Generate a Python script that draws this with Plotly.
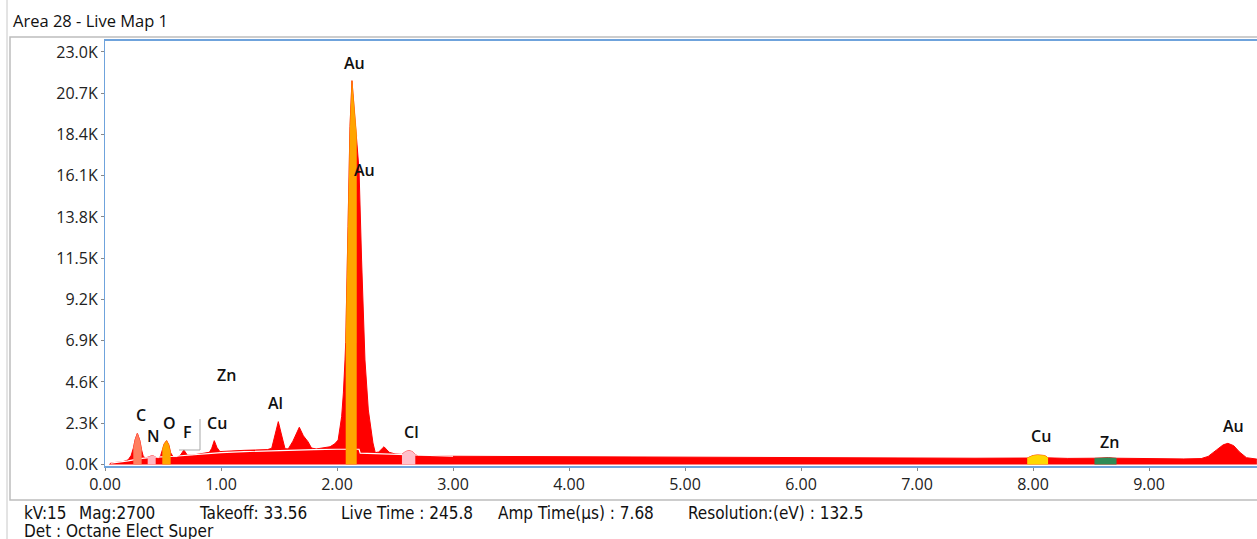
import plotly.graph_objects as go

# ---------------- data ----------------
energy = [0.04, 0.05, 0.10, 0.15, 0.20, 0.225, 0.244, 0.26, 0.279, 0.30, 0.316, 0.33, 0.35,
          0.368, 0.385, 0.40, 0.42, 0.437, 0.46, 0.48, 0.494, 0.51, 0.531, 0.55, 0.566, 0.59,
          0.62, 0.65, 0.68, 0.71, 0.75, 0.80, 0.85, 0.90, 0.92, 0.942, 0.965, 0.99, 1.05, 1.10,
          1.20, 1.30, 1.40, 1.437, 1.47, 1.494, 1.52, 1.552, 1.58, 1.62, 1.675, 1.71, 1.75,
          1.78, 1.82, 1.88, 1.94, 1.98, 2.01, 2.04, 2.055, 2.069, 2.075, 2.095, 2.112, 2.129,
          2.145, 2.164, 2.17, 2.19, 2.212, 2.241, 2.27, 2.299, 2.31, 2.33, 2.36, 2.405, 2.45,
          2.50, 2.56, 2.59, 2.62, 2.65, 2.675, 2.70, 2.80, 3.00, 3.50, 4.00, 4.50, 5.00, 5.50,
          6.00, 6.50, 7.00, 7.50, 7.95, 8.00, 8.04, 8.10, 8.13, 8.30, 8.53, 8.60, 8.65, 8.72,
          9.00, 9.30, 9.45, 9.51, 9.58, 9.64, 9.68, 9.73, 9.78, 9.84, 9.93]
counts = [0, 90, 120, 150, 260, 500, 900, 1400, 1740, 1350, 800, 450, 360,
          420, 470, 480, 470, 420, 330, 500, 850, 1150, 1330, 1100, 650, 400,
          400, 520, 810, 520, 520, 570, 620, 680, 900, 1330, 950, 720, 740, 770,
          790, 810, 830, 900, 1700, 2390, 1700, 880, 870, 1300, 2075, 1600, 1270,
          920, 865, 920, 990, 1150, 1365, 2665, 3990, 5830, 6800, 13260, 18840, 21400,
          20200, 18840, 18300, 16420, 11400, 5830, 3040, 1760, 1200, 660, 700, 990, 680,
          590, 560, 720, 770, 720, 560, 480, 470, 460, 445, 430, 415, 400, 390,
          380, 370, 360, 350, 360, 500, 530, 500, 370, 340, 350, 380, 380, 350,
          320, 310, 330, 450, 800, 1100, 1180, 1050, 700, 380, 300]

# continuum (background model) line
bg_energy = [0.05, 0.10, 0.20, 0.30, 0.40, 0.60, 0.80, 1.00, 1.20, 1.40, 1.60, 1.80, 2.00, 2.19,
             2.20, 2.50, 2.80, 3.00]
bg_counts = [80, 110, 200, 330, 400, 460, 570, 660, 720, 770, 800, 830, 850, 850,
             630, 560, 500, 460]

# element regions of interest
roi_names = ["C", "N", "O", "Au", "Cl", "Cu", "Zn"]
roi_lo = [0.244, 0.368, 0.494, 2.075, 2.56, 7.95, 8.53]
roi_hi = [0.316, 0.437, 0.566, 2.17, 2.675, 8.13, 8.72]
roi_colors = ["#FF7F5F", "#FFB6C1", "#FFA500", "#FFA500", "#FFC0CB", "#FFD700", "#2E8B57"]

# peak labels
label_text = ["Au", "Au", "C", "N", "O", "F", "Cu", "Zn", "Al", "Cl", "Cu", "Zn", "Au"]
label_keV = [2.155, 2.24, 0.307, 0.417, 0.560, 0.710, 0.963, 1.049, 1.474, 2.644, 8.067, 8.658, 9.727]
label_cnt = [22400, 16420, 2760, 1580, 2330, 1820, 2290, 4980, 3410, 1820, 1580, 1270, 2150]

xtick_vals = [0, 1, 2, 3, 4, 5, 6, 7, 8, 9]
xtick_text = ["0.00", "1.00", "2.00", "3.00", "4.00", "5.00", "6.00", "7.00", "8.00", "9.00"]
ytick_vals = [0, 2300, 4600, 6900, 9200, 11500, 13800, 16100, 18400, 20700, 23000]
ytick_text = ["0.0K", "2.3K", "4.6K", "6.9K", "9.2K", "11.5K", "13.8K", "16.1K", "18.4K", "20.7K", "23.0K"]

title_text = "Area 28 - Live Map 1"
info_text = ["kV:15", "Mag:2700", "Takeoff: 33.56", "Live Time : 245.8", "Amp Time(µs) : 7.68",
             "Resolution:(eV) : 132.5"]
det_text = "Det : Octane Elect Super"

# ---------------- layout geometry ----------------
W, H = 1257, 539
L, T, B = 105, 41, 73
PW, PH = W - L, H - T - B


def px_x(px):
    return (px - L) / PW


def px_y(py):
    return (H - B - py) / PH


fig = go.Figure()

fig.add_trace(go.Scatter(x=energy, y=counts, mode="lines", fill="tozeroy",
                         fillcolor="#FF0000", line=dict(color="#FF0000", width=1),
                         hoverinfo="skip"))
fig.add_trace(go.Scatter(x=bg_energy, y=bg_counts, mode="lines",
                         line=dict(color="#FFFFFF", width=1.2), hoverinfo="skip"))

for name, lo, hi, col in zip(roi_names, roi_lo, roi_hi, roi_colors):
    xs = [e for e in energy if lo <= e <= hi]
    ys = [c for e, c in zip(energy, counts) if lo <= e <= hi]
    fig.add_trace(go.Scatter(x=xs, y=ys, mode="lines", fill="tozeroy", fillcolor=col,
                             line=dict(color=col, width=0.5), name=name, hoverinfo="skip"))

annotations = []
for t, xk, yc in zip(label_text, label_keV, label_cnt):
    annotations.append(dict(x=xk, y=yc, xref="x", yref="y", text=t, showarrow=False,
                            font=dict(family="Open Sans", size=16, color="#111", weight=600),
                            xanchor="center", yanchor="middle"))

annotations.append(dict(x=px_x(11), y=px_y(21), xref="paper", yref="paper", text=title_text,
                        showarrow=False, xanchor="left", yanchor="middle",
                        font=dict(family="Open Sans", size=16.5, color="#111")))

info_font = dict(family="Liberation Sans Narrow, Arial Narrow, DejaVu Sans Condensed",
                 size=17, color="#111")
info_x = [22, 77, 197, 339, 496, 686]
for t, xp in zip(info_text, info_x):
    annotations.append(dict(x=px_x(xp), y=px_y(513), xref="paper", yref="paper", text=t,
                            showarrow=False, xanchor="left", yanchor="middle", font=info_font))
annotations.append(dict(x=px_x(22), y=px_y(531), xref="paper", yref="paper", text=det_text,
                        showarrow=False, xanchor="left", yanchor="middle", font=info_font))

shapes = [
    # outer panel line
    dict(type="line", xref="paper", yref="paper", x0=px_x(7), x1=px_x(7), y0=px_y(0), y1=px_y(539),
         line=dict(color="#C8C8C8", width=1)),
    # inner frame box
    dict(type="rect", xref="paper", yref="paper", x0=px_x(10), x1=px_x(1265), y0=px_y(37), y1=px_y(500),
         line=dict(color="#BDBDBD", width=1.5), layer="below"),
    # F label box edges
    dict(type="line", xref="paper", yref="paper", x0=px_x(200), x1=px_x(200), y0=px_y(419), y1=px_y(450),
         line=dict(color="#A8A8A8", width=1)),
    dict(type="line", xref="paper", yref="paper", x0=px_x(179), x1=px_x(200), y0=px_y(450), y1=px_y(450),
         line=dict(color="#A8A8A8", width=1)),
]

fig.update_layout(
    width=W, height=H, autosize=False,
    margin=dict(l=L, r=0, t=T, b=B, pad=0),
    paper_bgcolor="white", plot_bgcolor="white",
    showlegend=False,
    annotations=annotations, shapes=shapes,
    font=dict(family="Open Sans", size=16, color="#222"),
)
fig.update_xaxes(range=[0, PW / 116.0], tickvals=xtick_vals, ticktext=xtick_text,
                 showgrid=False, zeroline=False, showline=True, mirror=True,
                 linecolor="#6FA3DC", linewidth=1.5, ticks="outside", ticklen=3,
                 tickcolor="#888", tickfont=dict(family="Open Sans", size=16, color="#222"))
fig.update_yaxes(range=[-84, 23613], tickvals=ytick_vals, ticktext=ytick_text,
                 showgrid=False, zeroline=False, showline=True,
                 linecolor="#6FA3DC", linewidth=1.2, ticks="outside", ticklen=3,
                 tickcolor="#888", tickfont=dict(family="Open Sans", size=16, color="#222"))

fig.write_html("out.html")
